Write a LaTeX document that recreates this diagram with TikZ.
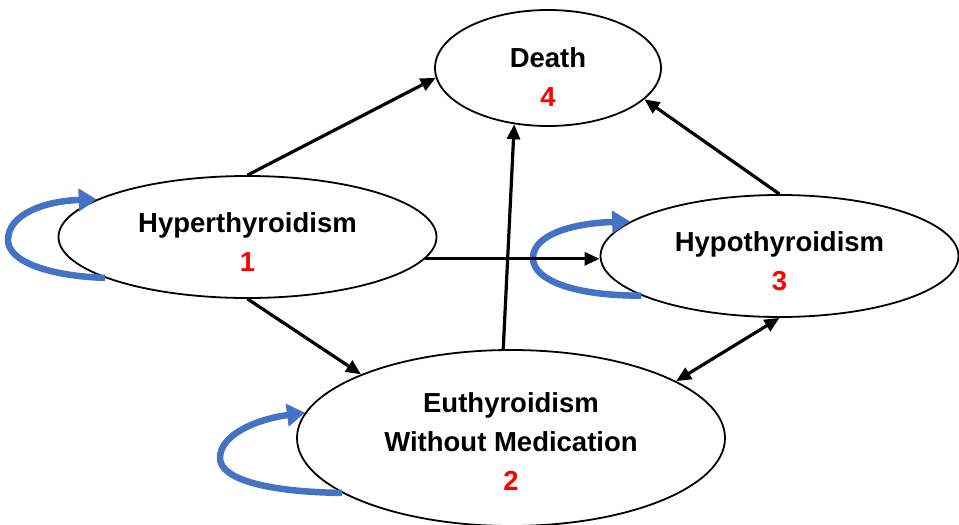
\documentclass[tikz,border=0pt]{standalone}
\usepackage{fontspec}
\setmainfont{Liberation Sans}
\usetikzlibrary{shapes.geometric,arrows.meta}
\definecolor{loopblue}{HTML}{4472C4}
\definecolor{numred}{HTML}{FF0000}
\newcommand{\liftby}[1]{\rule{0pt}{#1}}
\tikzset{
  state/.style={ellipse, draw, line width=1.8pt, inner sep=0pt, align=center,
    font=\fontsize{27.5}{39}\selectfont\bfseries, fill=white},
  trans/.style={line width=3.2pt, -{Triangle[length=15pt,width=13pt]}},
  bitrans/.style={line width=3.2pt, {Triangle[length=15pt,width=13pt]}-{Triangle[length=15pt,width=13pt]}},
  selfloop/.style={line width=6.5pt, loopblue, -{Triangle[length=18pt,width=22pt]}},
}
\begin{document}
\begin{tikzpicture}[x=1pt,y=-1pt]
\useasboundingbox (0,0) rectangle (959,525);
\clip (0,0) rectangle (959,525);
\node[state, minimum width=226pt, minimum height=116pt] (death) at (548,68)
  {\liftby{38pt}Death\\\textcolor{numred}{4}};
\node[state, minimum width=378pt, minimum height=122pt] (hyper) at (247.5,237)
  {\liftby{30pt}Hyperthyroidism\\\textcolor{numred}{1}};
\node[state, minimum width=358pt, minimum height=122pt] (hypo) at (779.5,256)
  {\liftby{30pt}Hypothyroidism\\\textcolor{numred}{3}};
\node[state, minimum width=428pt, minimum height=176pt] (euthy) at (511,438)
  {\liftby{26pt}Euthyroidism\\Without Medication\\\textcolor{numred}{2}};

\draw[selfloop] (hyper.196) .. controls (50,276) and (8,262) .. (8,240)
  .. controls (8,214) and (45,201) .. (hyper.166);
\draw[selfloop] (hypo.196) .. controls (580,296) and (533,282) .. (533,258)
  .. controls (533,234) and (575,223) .. (hypo.167);
\draw[selfloop] (euthy.198) .. controls (270,492) and (220,480) .. (220,458)
  .. controls (220,434) and (258,419) .. (euthy.173);

\draw[trans] (hyper.north) -- (death.185);
\draw[trans] (hyper.-7) -- (hyper.-7 -| hypo.west);
\draw[trans] (hyper.south) -- (euthy.157);
\draw[trans] (euthy.95) -- (death.239);
\draw[trans] (hypo.north) -- (death.-18);
\draw[bitrans] (hypo.south) -- (euthy.19);
\end{tikzpicture}
\end{document}
